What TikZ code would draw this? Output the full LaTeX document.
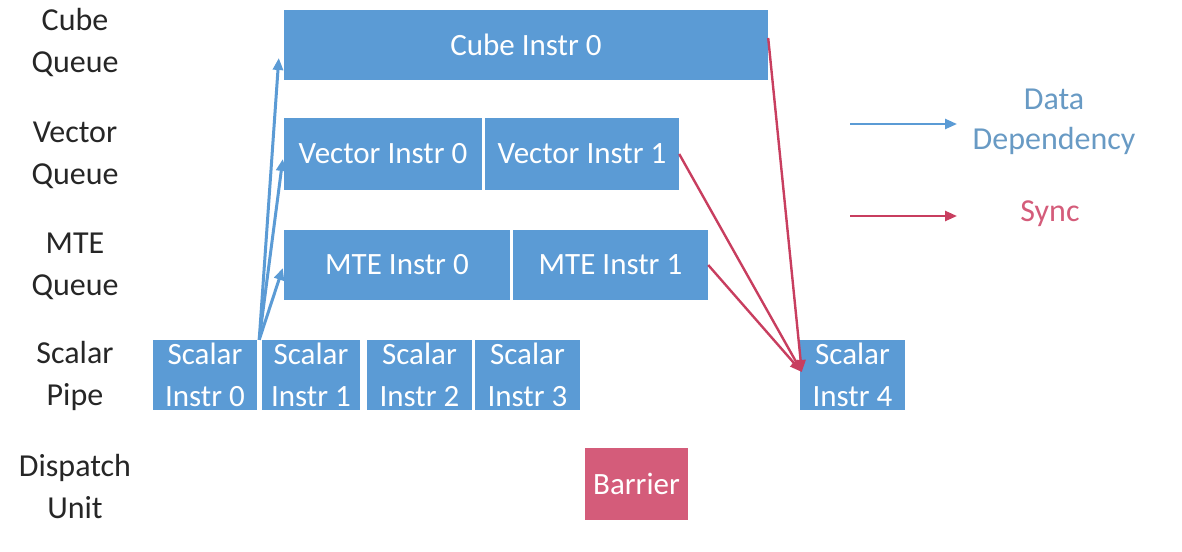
\documentclass[tikz,border=0pt]{standalone}
\usepackage{fontspec}
\setmainfont{Carlito}
\usetikzlibrary{arrows.meta,calc}
\definecolor{instrblue}{RGB}{91,155,213}
\definecolor{syncred}{RGB}{200,62,95}
\definecolor{barrierred}{RGB}{212,92,122}
\definecolor{legendblue}{RGB}{104,154,196}
\tikzset{
  >={Triangle[length=12pt,width=10pt]},
  instr/.style={fill=instrblue,text=white,inner sep=0pt,minimum height=70pt},
  lane/.style={align=center,text=black!85,font=\fontsize{32}{42}\selectfont},
  dep/.style={->,instrblue,line width=3pt},
  sync/.style={->,syncred,line width=2.4pt}
}
\begin{document}
\begin{tikzpicture}[x=1pt,y=-1pt,font=\fontsize{31}{42}\selectfont]
\useasboundingbox (0,0) rectangle (1182,551);

% Lane labels
\node[lane] (lcube) at (75,43) {Cube\\Queue};
\node[lane] (lvec) at (75,155) {Vector\\Queue};
\node[lane] (lmte) at (75,266) {MTE\\Queue};
\node[lane] (lscalar) at (75,376) {Scalar\\Pipe};
\node[lane] (ldisp) at (75,487) {Dispatch\\Unit};

% Queues
\node[instr,minimum width=484pt] (cube) at (526,45) {Cube Instr 0};
\node[instr,minimum width=198pt,minimum height=72pt] (vec0) at (383,154) {Vector Instr 0};
\node[instr,minimum width=194pt,minimum height=72pt] (vec1) at (582,154) {Vector Instr 1};
\node[instr,minimum width=226pt] (mte0) at (397,265) {MTE Instr 0};
\node[instr,minimum width=195pt] (mte1) at (610.5,265) {MTE Instr 1};

% Scalar pipe
\node[instr,minimum width=104pt,align=center] (sc0) at (205,375) {Scalar\\Instr 0};
\node[instr,minimum width=98pt,align=center] (sc1) at (311,375) {Scalar\\Instr 1};
\node[instr,minimum width=105pt,align=center] (sc2) at (419.5,375) {Scalar\\Instr 2};
\node[instr,minimum width=105pt,align=center] (sc3) at (527.5,375) {Scalar\\Instr 3};
\node[instr,minimum width=105pt,align=center] (sc4) at (852.5,375) {Scalar\\Instr 4};

% Dispatch unit
\node[instr,fill=barrierred,minimum width=103pt,minimum height=72pt] (barrier) at (636.5,484) {Barrier};

% Data dependencies
\coordinate (src) at ($(sc0.north east)+(2,0)$);
\draw[dep] (src) -- ([xshift=-5pt,yshift=-13pt]cube.west);
\draw[dep] (src) -- ([xshift=-1pt,yshift=-5pt]vec0.west);
\draw[dep] (src) -- ([xshift=-1pt,yshift=-3pt]mte0.west);

% Sync
\coordinate (dst) at ([xshift=2pt,yshift=3pt]sc4.west);
\draw[sync] ([yshift=7pt]cube.east) -- (dst);
\draw[sync] (vec1.east) -- (dst);
\draw[sync] (mte1.east) -- (dst);

% Legend
\coordinate (depa) at (850,124);
\coordinate (depb) at (957,124);
\draw[dep,line width=2.4pt] (depa) -- (depb);
\node[align=center,text=legendblue,font=\fontsize{32}{40}\selectfont] (deptext) at (1054,122) {Data\\Dependency};
\coordinate (synca) at (850,216);
\coordinate (syncb) at (957,216);
\draw[sync] (synca) -- (syncb);
\node[text=barrierred,font=\fontsize{32}{40}\selectfont] (synctext) at (1050,214) {Sync};
\end{tikzpicture}
\end{document}
